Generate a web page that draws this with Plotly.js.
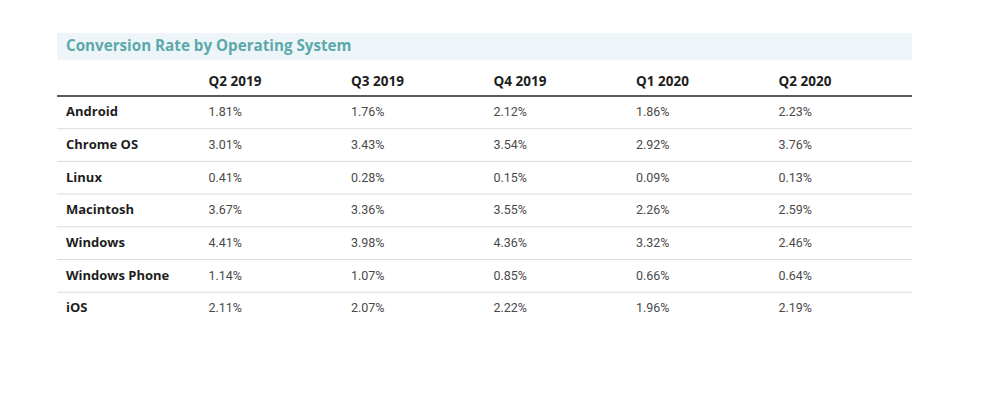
<!DOCTYPE html>
<html>
<head>
<meta charset="utf-8">
<script src="https://cdn.plot.ly/plotly-3.0.1.min.js"></script>
<style>html,body{margin:0;padding:0;background:#fff;}#chart{width:1000px;height:402px;}</style>
</head>
<body>
<div id="chart"></div>
<script>
const title = 'Conversion Rate by Operating System';
const quarters = ['Q2 2019', 'Q3 2019', 'Q4 2019', 'Q1 2020', 'Q2 2020'];
const systems = ['Android', 'Chrome OS', 'Linux', 'Macintosh', 'Windows', 'Windows Phone', 'iOS'];
const q2_2019 = [1.81, 3.01, 0.41, 3.67, 4.41, 1.14, 2.11];
const q3_2019 = [1.76, 3.43, 0.28, 3.36, 3.98, 1.07, 2.07];
const q4_2019 = [2.12, 3.54, 0.15, 3.55, 4.36, 0.85, 2.22];
const q1_2020 = [1.86, 2.92, 0.09, 2.26, 3.32, 0.66, 1.96];
const q2_2020 = [2.23, 3.76, 0.13, 2.59, 2.46, 0.64, 2.19];

// ---- layout constants (pixels) ----
const W = 1000, H = 402;
const X0 = 57, X1 = 912;          // table left/right edge
const COL_W = 142.5;              // column pitch
const TEXT_X0 = 66;               // anchor of first column text
const ROW0_Y = 113, ROW_H = 32.7; // centre of first body row, row pitch
const HEADER_Y = 82.5;            // centre of header text
const TITLE_TOP = 33, TITLE_BOTTOM = 60;

const px = x => x / W;
const py = y => 1 - y / H;
const headerRow = (HEADER_Y - ROW0_Y) / ROW_H;

const boldFont = '"Open Sans", Roboto, "Liberation Sans", Arial, sans-serif';
const valueFont = 'Roboto, "Open Sans", "Liberation Sans", Arial, sans-serif';

const rows = systems.map((_, i) => i);
const columns = [q2_2019, q3_2019, q4_2019, q1_2020, q2_2020];

const traces = [];
// row labels (column 0)
traces.push({
  type: 'scatter', mode: 'text',
  x: rows.map(() => 0), y: rows,
  text: systems.map(s => '<b>' + s + '</b>'),
  textposition: 'middle right',
  textfont: {family: boldFont, size: 13, color: '#1e1e1e'},
  hoverinfo: 'skip', showlegend: false, cliponaxis: false
});
// header row
traces.push({
  type: 'scatter', mode: 'text',
  x: quarters.map((_, j) => j + 1), y: quarters.map(() => headerRow),
  text: quarters.map(q => '<b>' + q + '</b>'),
  textposition: 'middle right',
  textfont: {family: boldFont, size: 13.5, color: '#1e1e1e'},
  hoverinfo: 'skip', showlegend: false, cliponaxis: false
});
// value columns
columns.forEach((vals, j) => {
  traces.push({
    type: 'scatter', mode: 'text',
    x: rows.map(() => j + 1), y: rows,
    text: vals.map(v => v.toFixed(2) + '%'),
    textposition: 'middle right',
    textfont: {family: valueFont, size: 12.5, color: '#4a4a4a'},
    hoverinfo: 'skip', showlegend: false, cliponaxis: false
  });
});

const shapes = [{
  type: 'rect', xref: 'paper', yref: 'paper', layer: 'below',
  x0: px(X0), x1: px(X1), y0: py(TITLE_BOTTOM), y1: py(TITLE_TOP),
  fillcolor: '#eef5f8', line: {width: 0}
}, {
  type: 'line', xref: 'paper', yref: 'y',
  x0: px(X0), x1: px(X1), y0: -0.52, y1: -0.52,
  line: {color: '#5a5a5a', width: 2}
}];
for (let i = 0; i < systems.length - 1; i++) {
  shapes.push({
    type: 'line', xref: 'paper', yref: 'y',
    x0: px(X0), x1: px(X1), y0: i + 0.48, y1: i + 0.48,
    line: {color: '#dcdcdc', width: 1}
  });
}

const layout = {
  width: W, height: H,
  margin: {l: 0, r: 0, t: 0, b: 0},
  paper_bgcolor: '#ffffff',
  plot_bgcolor: 'rgba(0,0,0,0)',
  xaxis: {
    domain: [0, 1],
    range: [-TEXT_X0 / COL_W, (W - TEXT_X0) / COL_W],
    visible: false, fixedrange: true
  },
  yaxis: {
    domain: [0, 1],
    range: [(H - ROW0_Y) / ROW_H, -ROW0_Y / ROW_H],
    visible: false, fixedrange: true
  },
  title: {
    text: '<b>' + title + '</b>',
    x: px(66), xref: 'paper', xanchor: 'left',
    y: py(46), yref: 'paper', yanchor: 'middle',
    font: {family: boldFont, size: 15.2, color: '#5ca9ab'}
  },
  shapes: shapes
};

Plotly.newPlot('chart', traces, layout, {displayModeBar: false, staticPlot: true});
</script>
</body>
</html>
